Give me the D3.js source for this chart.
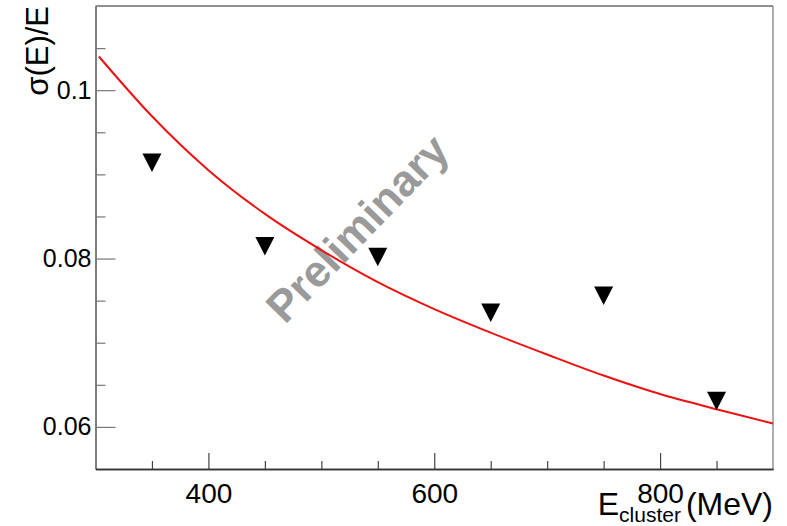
<!DOCTYPE html>
<html>
<head>
<meta charset="utf-8">
<script src="https://cdnjs.cloudflare.com/ajax/libs/d3/7.8.5/d3.min.js"></script>
<style>
  body { margin: 0; background: #fff; }
  text { font-family: "Liberation Sans", Arial, sans-serif; }
</style>
</head>
<body>
<div id="chart-container"></div>
<script>
// measured points (sigma(E)/E vs cluster energy)
var energy = [350, 450, 550, 650, 750, 850];
var resolution = [0.0914, 0.0815, 0.0802, 0.0736, 0.0756, 0.0631];

// fit curve
var fitE = [303, 350, 400, 450, 500, 550, 600, 650, 700, 750, 800, 850, 900];
var fitRes = [0.1040, 0.0969, 0.0905, 0.0853, 0.0810, 0.0772, 0.0740, 0.0712, 0.0686, 0.0661, 0.0639, 0.0621, 0.0604];

var xMajor = [400, 600, 800];
var xMinor = [350, 450, 500, 550, 650, 700, 750, 850];
var yMajor = [0.06, 0.08, 0.1];
var yMinor = [0.065, 0.07, 0.075, 0.085, 0.09, 0.095, 0.105];

var W = 787, H = 526;
var margin = { top: 6, right: 14, bottom: 57, left: 95.5 };
var width = W - margin.left - margin.right;
var height = H - margin.top - margin.bottom;

var svg = d3.select("#chart-container").append("svg")
  .attr("width", W)
  .attr("height", H);

var g = svg.append("g")
  .attr("transform", "translate(" + margin.left + "," + margin.top + ")");

var x = d3.scaleLinear().domain([300, 900]).range([0, width]);
var y = d3.scaleLinear().domain([0.055, 0.11]).range([height, 0]);

// frame
g.append("line").attr("x1", 0).attr("x2", width).attr("y1", 0).attr("y2", 0)
  .attr("stroke", "#222").attr("stroke-width", 1.2);
g.append("line").attr("x1", width).attr("x2", width).attr("y1", 0).attr("y2", height)
  .attr("stroke", "#777").attr("stroke-width", 1.2);

// y axis
g.append("g").attr("class", "y axis")
  .call(d3.axisLeft(y).tickValues(yMajor).tickSize(-20).tickSizeOuter(0).tickPadding(4)
    .tickFormat(function(d) { return d === 0.1 ? "0.1" : d3.format(".2f")(d); }));
g.append("g").attr("class", "y minor")
  .call(d3.axisLeft(y).tickValues(yMinor).tickSize(-10).tickSizeOuter(0).tickFormat(""));

// x axis
g.append("g").attr("class", "x axis")
  .attr("transform", "translate(0," + height + ")")
  .call(d3.axisBottom(x).tickValues(xMajor).tickSize(-16).tickSizeOuter(0).tickPadding(14));
g.append("g").attr("class", "x minor")
  .attr("transform", "translate(0," + height + ")")
  .call(d3.axisBottom(x).tickValues(xMinor).tickSize(-8).tickSizeOuter(0).tickFormat(""));

g.selectAll(".y path.domain").attr("stroke", "#777").attr("stroke-width", 1.5);
g.selectAll(".y .tick line").attr("stroke", "#777").attr("stroke-width", 1.2);
g.selectAll(".x path.domain").attr("stroke", "#333").attr("stroke-width", 1.3);
g.selectAll(".x .tick line").attr("stroke", "#444").attr("stroke-width", 1.2);
g.selectAll(".y .tick text").attr("font-size", 25).attr("fill", "#000");
g.selectAll(".x .tick text").attr("font-size", 28).attr("fill", "#000");
g.selectAll(".axis, .minor").attr("font-family", null);

// watermark
g.append("text")
  .attr("transform", "translate(" + (357 - margin.left) + "," + (228 - margin.top) + ") rotate(-46)")
  .attr("text-anchor", "middle")
  .attr("dominant-baseline", "central")
  .attr("font-size", 44)
  .attr("font-weight", "bold")
  .attr("fill", "#9a9a9a")
  .text("Preliminary");

// fit line
var line = d3.line()
  .x(function(d, i) { return x(fitE[i]); })
  .y(function(d) { return y(d); })
  .curve(d3.curveMonotoneX);

g.append("path")
  .datum(fitRes)
  .attr("fill", "none")
  .attr("stroke", "#ee1111")
  .attr("stroke-width", 2)
  .attr("d", line);

// markers, downward triangles
g.selectAll(".marker")
  .data(resolution)
  .enter().append("path")
  .attr("class", "marker")
  .attr("transform", function(d, i) { return "translate(" + x(energy[i]) + "," + y(d) + ")"; })
  .attr("d", "M-9.5,-9L9.5,-9L0,9.5Z")
  .attr("fill", "#000");

// axis titles
var xt = svg.append("text")
  .attr("x", 773)
  .attr("y", 515)
  .attr("text-anchor", "end")
  .attr("font-size", 32)
  .attr("fill", "#000");
xt.append("tspan").text("E");
xt.append("tspan").attr("font-size", 21).attr("dy", 7).text("cluster");
xt.append("tspan").attr("dy", -7).attr("dx", 5).text("(MeV)");

svg.append("text")
  .attr("transform", "translate(48,6) rotate(-90)")
  .attr("text-anchor", "end")
  .attr("font-size", 31)
  .attr("fill", "#000")
  .text("σ(E)/E");
</script>
</body>
</html>
